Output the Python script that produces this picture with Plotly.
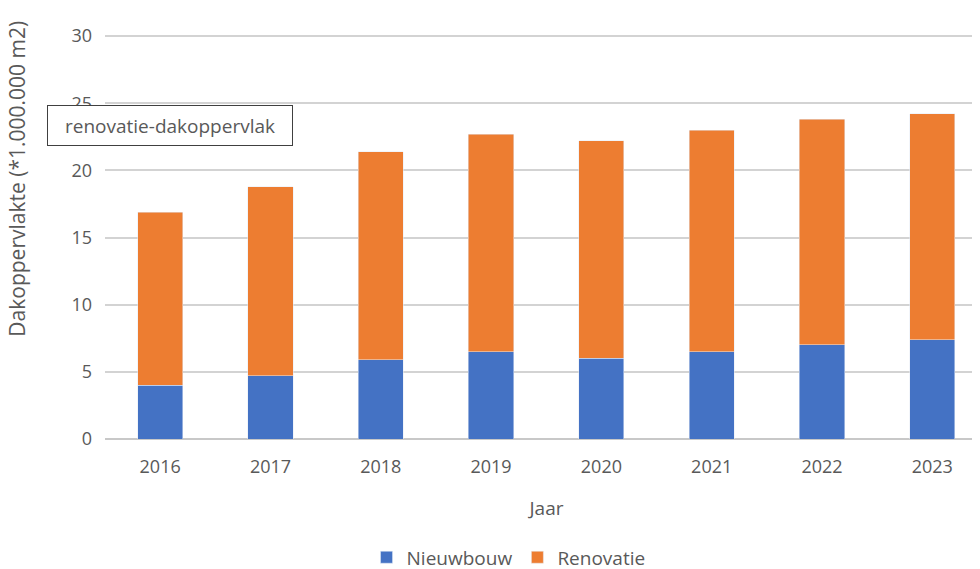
import plotly.graph_objects as go

years = ["2016", "2017", "2018", "2019", "2020", "2021", "2022", "2023"]
nieuwbouw = [4.0, 4.7, 5.9, 6.5, 6.0, 6.5, 7.0, 7.4]
renovatie = [12.9, 14.1, 15.5, 16.2, 16.2, 16.5, 16.8, 16.8]

BLUE = "#4472C4"
ORANGE = "#ED7D31"
TXT = "#595959"
FONT = "Open Sans"

fig = go.Figure()
fig.add_trace(go.Bar(x=years, y=nieuwbouw, name="Nieuwbouw", marker_color=BLUE))
fig.add_trace(go.Bar(x=years, y=renovatie, name="Renovatie", marker_color=ORANGE))

fig.update_layout(
    width=980, height=569,
    barmode="stack", bargap=0.59,
    plot_bgcolor="white", paper_bgcolor="white",
    margin=dict(l=97, r=0, t=27, b=138, autoexpand=False),
    font=dict(family=FONT, size=18, color=TXT),
    showlegend=True,
    legend=dict(orientation="h", traceorder="normal",
                x=0.457, xanchor="center", y=-0.293, yanchor="middle",
                font=dict(size=19, color=TXT)),
    xaxis=dict(
        type="category", range=[-0.5, 7.505], automargin=False,
        showgrid=False, showline=False, zeroline=False,
        ticks="", ticklabelstandoff=15,
        tickfont=dict(size=18, color=TXT),
        title=dict(text="Jaar", font=dict(size=19, color=TXT), standoff=24),
    ),
    yaxis=dict(
        range=[0, 30.08], dtick=5, tick0=0, automargin=False,
        showgrid=True, gridcolor="#D3D3D3", gridwidth=2,
        zeroline=True, zerolinecolor="#C8C8C8", zerolinewidth=2,
        showline=False, ticks="", ticklabelstandoff=12,
        tickfont=dict(size=18, color=TXT),
    ),
    annotations=[
        dict(text="Dakoppervlakte (*1.000.000 m2)", textangle=-90,
             xref="paper", yref="paper", x=-0.0994, y=0.645,
             xanchor="center", yanchor="middle", showarrow=False,
             font=dict(size=21, color=TXT)),
        dict(text="renovatie-dakoppervlak",
             xref="paper", yref="paper", x=0.0736, y=0.7754,
             xanchor="center", yanchor="middle", showarrow=False,
             width=244, height=39, borderpad=0,
             bgcolor="white", bordercolor="#404040", borderwidth=1,
             font=dict(size=19, color=TXT)),
    ],
)

fig.write_html("out.html")
